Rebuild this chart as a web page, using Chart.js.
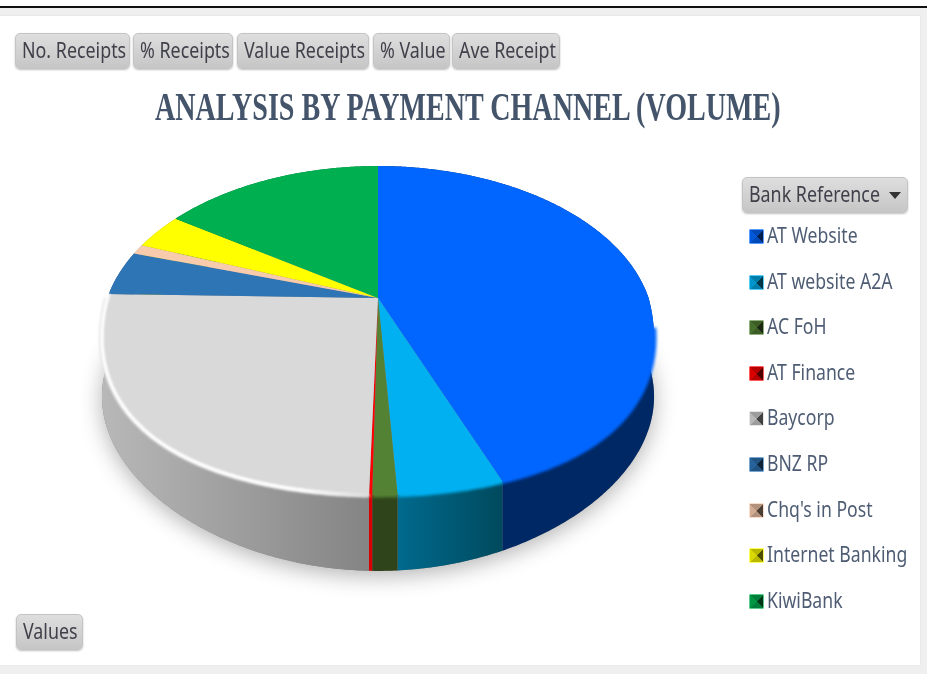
<!DOCTYPE html>
<html>
<head>
<meta charset="utf-8">
<script src="https://cdn.jsdelivr.net/npm/chart.js@4/dist/chart.umd.min.js"></script>
<style>
html, body { margin: 0; padding: 0; background: #fff; }
#page { position: relative; width: 927px; height: 674px; overflow: hidden; background: #fff; }
#line { position: absolute; left: 0; right: 0; top: 6px; height: 2px; background: #111; }
#frame { position: absolute; left: 0; right: 0; top: 8px; bottom: 0; background: #efefef; }
#panel { position: absolute; left: 0; top: 16px; width: 920px; height: 649px; background: #fff; box-shadow: 0 0 2px #ddd; }
canvas { position: absolute; left: 0; top: 0; }
.btn {
    position: absolute; box-sizing: border-box; height: 36px;
    background: linear-gradient(#dedede, #c6c6c6); border: 1px solid #c4c4c4; border-radius: 5px;
    box-shadow: 0 1px 2px rgba(0,0,0,.25);
    font: 21px "Noto Sans", sans-serif; color: #40404a; white-space: nowrap; overflow: hidden;
}
.btn span, .lab { display: inline-block; transform-origin: 0 50%; }
.btn span { position: absolute; left: 6px; top: 2px; transform: scaleX(.85); }
#title {
    position: absolute; left: 155px; top: 84px; white-space: nowrap; transform-origin: 0 50%;
    font: bold 39px "Liberation Serif", serif; color: #44546a; transform: scaleX(.72);
}
.row { position: absolute; left: 749px; height: 20px; }
.sw { position: absolute; left: 0; top: 2px; width: 15px; height: 15px; border-radius: 1px; box-sizing: border-box; }
.lab {
    position: absolute; left: 18px; top: -6px; white-space: nowrap;
    font: 21px "Noto Sans", sans-serif; color: #4f5d74; transform: scaleX(.84);
}
#arrow { position: absolute; right: 6px; top: 14px; width: 0; height: 0; border-left: 6px solid transparent; border-right: 6px solid transparent; border-top: 7px solid #333; }
</style>
</head>
<body>
<div id="page">
    <div id="frame"></div>
    <div id="line"></div>
    <div id="panel"></div>
    <canvas id="chart" width="927" height="674"></canvas>
    <div id="title"></div>
    <div id="controls"></div>
    <div id="legend"></div>
</div>
<script>
const chartTitle = "ANALYSIS BY PAYMENT CHANNEL (VOLUME)";
const categories = ["AT Website", "AT website A2A", "AC FoH", "AT Finance", "Baycorp", "BNZ RP", "Chq's in Post", "Internet Banking", "KiwiBank"];
// share of receipts in %
const shares = [43.9, 5.2, 1.2, 0.15, 25.0, 4.4, 1.0, 3.6, 15.6];
const topColors = ["#0066ff", "#00b0f0", "#548235", "#ff0000", "#d9d9d9", "#2e75b6", "#f8cbad", "#ffff00", "#00b050"];
const wallColors = [
    ["#002864", "#002864"], ["#006a8e", "#004a5e"], ["#2f441a", "#2f441a"], ["#d80000", "#d80000"],
    ["#b8b8b8", "#848484"], ["#1d4a74", "#1d4a74"], ["#a08270", "#a08270"], ["#a0a000", "#a0a000"], ["#00703a", "#00703a"]
];
const buttonLabels = ["No. Receipts", "% Receipts", "Value Receipts", "% Value", "Ave Receipt"];

// perspective of the tilted disc
const apexX = 378, apexY = 298, spreadX = 270.6, spreadY = 158, tilt = 0.1976;

// top rim: the front half bulges a bit past a true ellipse
function projectTop(angle) {
    const u = Math.cos(angle), v = Math.sin(angle), w = 1 - tilt * v;
    const vy = v > 0 ? v + 0.25 * v * (1 - v) : v;
    return [apexX + spreadX * u / w, apexY + spreadY * vy / (1 - tilt * vy)];
}

// bottom edge of the wall
function projectBase(angle) {
    const u = Math.cos(angle), v = Math.sin(angle), w = 1 - tilt * v;
    const drop = 66 + 10 * Math.pow(Math.max(v, 0), 4);
    return [apexX + spreadX * u / w, apexY + spreadY * v / w + drop];
}

function arcPoints(start, end, fn) {
    const steps = Math.max(2, Math.ceil((end - start) / 0.01));
    const pts = [];
    for (let i = 0; i <= steps; i++) pts.push(fn(start + (end - start) * i / steps));
    return pts;
}

function tracePoints(ctx, pts) {
    pts.forEach(p => ctx.lineTo(p[0], p[1]));
}

const pie3d = {
    id: 'pie3d',
    beforeDatasetsDraw(chart) {
        const ctx = chart.ctx;
        const arcs = chart.getDatasetMeta(0).data;

        // soft shadow under the body
        ctx.save();
        ctx.shadowColor = 'rgba(0,0,0,.3)';
        ctx.shadowBlur = 22;
        ctx.shadowOffsetY = 5;
        ctx.fillStyle = '#888';
        ctx.beginPath();
        tracePoints(ctx, arcPoints(-Math.PI / 2, Math.PI * 1.5, projectBase));
        ctx.closePath();
        ctx.fill();
        ctx.restore();

        // walls
        arcs.forEach((arc, i) => {
            const pts = arcPoints(arc.startAngle, arc.endAngle, projectTop);
            const base = arcPoints(arc.startAngle, arc.endAngle, projectBase);
            const xs = pts.map(p => p[0]);
            const grad = ctx.createLinearGradient(Math.min(...xs), 0, Math.max(...xs), 0);
            grad.addColorStop(0, wallColors[i][0]);
            grad.addColorStop(1, wallColors[i][1]);
            ctx.fillStyle = grad;
            ctx.beginPath();
            tracePoints(ctx, pts);
            tracePoints(ctx, base.reverse());
            ctx.closePath();
            ctx.fill();
        });

        // blurred lip where the top meets the wall, front half only
        arcs.forEach((arc, i) => {
            const from = Math.max(arc.startAngle, 0.15), to = Math.min(arc.endAngle, Math.PI);
            if (to <= from) return;
            ctx.save();
            ctx.filter = 'blur(1.5px)';
            ctx.strokeStyle = topColors[i];
            ctx.lineWidth = 5;
            ctx.beginPath();
            tracePoints(ctx, arcPoints(from, to, projectTop));
            ctx.stroke();
            ctx.restore();
        });

        // top faces
        arcs.forEach((arc) => {
            ctx.fillStyle = arc.options.backgroundColor;
            ctx.beginPath();
            ctx.moveTo(apexX, apexY);
            tracePoints(ctx, arcPoints(arc.startAngle, arc.endAngle, projectTop));
            ctx.closePath();
            ctx.fill();
        });

        // white highlight along the Baycorp rim
        const bay = arcs[categories.indexOf("Baycorp")];
        const rim = ctx.createLinearGradient(103, 0, projectTop(bay.startAngle)[0], 0);
        rim.addColorStop(0, '#ffffff');
        rim.addColorStop(0.75, '#ffffff');
        rim.addColorStop(1, '#dcdcdc');
        ctx.save();
        ctx.filter = 'blur(0.8px)';
        ctx.strokeStyle = rim;
        ctx.lineWidth = 3.5;
        ctx.beginPath();
        tracePoints(ctx, arcPoints(bay.startAngle, bay.endAngle, projectTop));
        ctx.stroke();
        ctx.restore();

        return false;
    }
};

new Chart(document.getElementById('chart'), {
    type: 'pie',
    plugins: [pie3d],
    data: {
        labels: categories,
        datasets: [{ data: shares, backgroundColor: topColors, borderWidth: 0 }]
    },
    options: {
        responsive: false,
        animation: false,
        events: [],
        plugins: { legend: { display: false }, tooltip: { enabled: false } }
    }
});

document.getElementById('title').textContent = chartTitle;

// buttons
const controls = document.getElementById('controls');
function addButton(label, left, top, width, arrow) {
    const b = document.createElement('div');
    b.className = 'btn';
    b.style.left = left + 'px';
    b.style.top = top + 'px';
    b.style.width = width + 'px';
    b.innerHTML = '<span></span>' + (arrow ? '<div id="arrow"></div>' : '');
    b.firstChild.textContent = label;
    controls.appendChild(b);
}
const buttonBoxes = [[15, 115], [133, 100], [237, 132], [373, 77], [452, 108]];
buttonLabels.forEach((label, i) => addButton(label, buttonBoxes[i][0], 33, buttonBoxes[i][1], false));
addButton("Bank Reference", 742, 177, 166, true);
addButton("Values", 16, 614, 67, false);

// legend
const legend = document.getElementById('legend');
function shade(hex, f) {
    const n = parseInt(hex.slice(1), 16);
    const c = [n >> 16, (n >> 8) & 255, n & 255].map(x => Math.round(f < 1 ? x * f : x + (255 - x) * (f - 1)));
    return `rgb(${c.join(',')})`;
}
categories.forEach((name, i) => {
    const row = document.createElement('div');
    row.className = 'row';
    row.style.top = (227 + i * 45.6) + 'px';
    const c = topColors[i];
    const sw = document.createElement('div');
    sw.className = 'sw';
    sw.style.border = '1px solid ' + shade(c, 1.35);
    sw.style.background = `conic-gradient(from 45deg, ${shade(c, .3)} 0 25%, ${shade(c, .72)} 25% 50%, ${shade(c, .85)} 50% 75%, ${shade(c, .72)} 75%)`;
    const lab = document.createElement('span');
    lab.className = 'lab';
    lab.textContent = name;
    row.appendChild(sw);
    row.appendChild(lab);
    legend.appendChild(row);
});
</script>
</body>
</html>
